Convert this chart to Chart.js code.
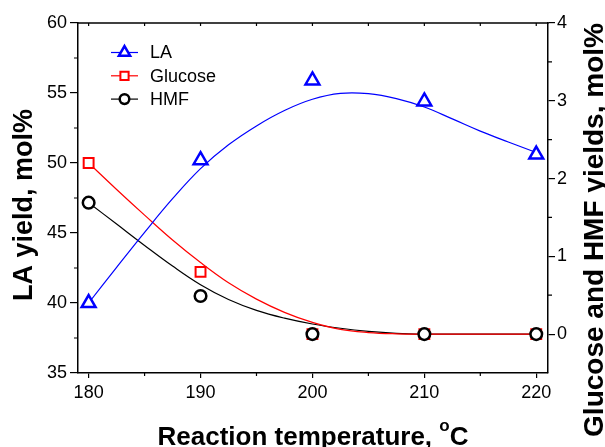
<!DOCTYPE html>
<html>
<head>
<meta charset="utf-8">
<script src="https://cdn.jsdelivr.net/npm/chart.js@4/dist/chart.umd.min.js"></script>
<style>
  html, body { margin: 0; padding: 0; background: #fff; }
  #wrap { width: 605px; height: 447px; }
</style>
</head>
<body>
<div id="wrap"><canvas id="myChart" width="605" height="447"></canvas></div>
<script>
/* measured yields */
const temps = [180, 190, 200, 210, 220];
const laYield = [40.0, 50.2, 55.9, 54.4, 50.6];
const glucoseYield = [2.2, 0.8, 0, 0, 0];
const hmfYield = [1.69, 0.49, 0, 0, 0];

/* fitted curves */
const fitTemps = [180, 182.5, 185, 187.5, 190, 192.5, 195, 197.5, 200, 202.5, 205, 207.5, 210, 212.5, 215, 217.5, 220];
const laFit = [40.0, 42.55, 45.05, 47.45, 49.6, 51.3, 52.65, 53.75, 54.55, 54.97, 54.95, 54.6, 54.0, 53.15, 52.28, 51.5, 50.75];
const glucoseFit = [2.2, 1.86, 1.53, 1.21, 0.92, 0.66, 0.45, 0.28, 0.15, 0.06, 0.02, 0.004, 0, 0, 0, 0, 0];
const hmfFit = [1.69, 1.415, 1.14, 0.875, 0.635, 0.445, 0.305, 0.205, 0.13, 0.075, 0.035, 0.01, 0, 0, 0, 0, 0];

/* axis ticks */
const xTicks = [180, 190, 200, 210, 220];
const laTicks = [35, 40, 45, 50, 55, 60];
const sideTicks = [0, 1, 2, 3, 4];

const BLUE = '#0000ff';
const RED = '#ff0000';
const BLACK = '#000000';
const FONT = '"Liberation Sans", Arial, sans-serif';

Chart.defaults.font.family = FONT;
Chart.defaults.color = '#000';

function pts(xs, ys) {
    return xs.map((x, i) => ({x: x, y: ys[i]}));
}

const legendItems = [
    {text: 'LA', color: BLUE, pointStyle: 'triangle', radius: 6.5, borderWidth: 2.5},
    {text: 'Glucose', color: RED, pointStyle: 'rect', radius: 5.8, borderWidth: 2},
    {text: 'HMF', color: BLACK, pointStyle: 'circle', radius: 4.8, borderWidth: 2.5}
];

/* top frame, minor ticks, titles and legend */
const decorations = {
    id: 'decorations',
    afterDraw(chart) {
        const {ctx, chartArea: a, scales} = chart;
        const x = scales.x, y = scales.y, y2 = scales.y2;
        ctx.save();
        ctx.strokeStyle = '#000';
        ctx.lineWidth = 1.5;

        // top border
        ctx.beginPath();
        ctx.moveTo(a.left - 0.75, a.top);
        ctx.lineTo(a.right + 0.75, a.top);
        ctx.stroke();

        ctx.lineWidth = 1.2;
        ctx.beginPath();
        // ticks along the top, pointing in
        for (let v = 180; v <= 220; v += 5) {
            const px = x.getPixelForValue(v);
            ctx.moveTo(px, a.top);
            ctx.lineTo(px, a.top + 3);
        }
        // minor ticks bottom
        for (let v = 185; v < 220; v += 10) {
            const px = x.getPixelForValue(v);
            ctx.moveTo(px, a.bottom);
            ctx.lineTo(px, a.bottom + 3);
        }
        // minor ticks left
        for (let v = 37.5; v < 60; v += 5) {
            const py = y.getPixelForValue(v);
            ctx.moveTo(a.left, py);
            ctx.lineTo(a.left - 4, py);
        }
        // minor ticks right
        for (let v = 0.5; v < 4; v += 1) {
            const py = y2.getPixelForValue(v);
            ctx.moveTo(a.right, py);
            ctx.lineTo(a.right + 4, py);
        }
        ctx.stroke();

        // axis titles
        ctx.fillStyle = '#000';
        ctx.textAlign = 'center';
        ctx.textBaseline = 'alphabetic';

        ctx.save();
        ctx.translate(31.5, 205);
        ctx.rotate(-Math.PI / 2);
        ctx.font = 'bold 27px ' + FONT;
        ctx.fillText('LA yield, mol%', 0, 0);
        ctx.restore();

        ctx.save();
        ctx.translate(603, 230);
        ctx.rotate(-Math.PI / 2);
        ctx.font = 'bold 28px ' + FONT;
        ctx.fillText('Glucose and HMF yields, mol%', 0, 0);
        ctx.restore();

        // x title with superscript degree
        const mainTxt = 'Reaction temperature, ';
        ctx.font = 'bold 26px ' + FONT;
        const w1 = ctx.measureText(mainTxt).width;
        const wC = ctx.measureText('C').width;
        ctx.font = 'bold 17px ' + FONT;
        const wo = ctx.measureText('o').width;
        const total = w1 + wo + wC;
        let sx = (a.left + a.right) / 2 - total / 2;
        ctx.textAlign = 'left';
        ctx.font = 'bold 26px ' + FONT;
        ctx.fillText(mainTxt, sx, 445);
        ctx.font = 'bold 17px ' + FONT;
        ctx.fillText('o', sx + w1, 431);
        ctx.font = 'bold 26px ' + FONT;
        ctx.fillText('C', sx + w1 + wo, 445);

        // legend
        ctx.font = '18px ' + FONT;
        ctx.textBaseline = 'middle';
        legendItems.forEach((item, i) => {
            const ly = 52.5 + i * 23.3;
            ctx.strokeStyle = item.color;
            ctx.lineWidth = 1.2;
            ctx.beginPath();
            ctx.moveTo(111, ly);
            ctx.lineTo(138, ly);
            ctx.stroke();
            ctx.fillStyle = '#fff';
            ctx.lineWidth = item.borderWidth;
            Chart.helpers.drawPoint(ctx, {
                pointStyle: item.pointStyle,
                radius: item.radius,
                rotation: 0,
                borderWidth: item.borderWidth
            }, 124.5, ly);
            ctx.fillStyle = '#000';
            ctx.fillText(item.text, 150, ly + 1);
        });
        ctx.restore();
    }
};

function fixTicks(list) {
    return function(scale) {
        scale.ticks = list.map(v => ({value: v}));
    };
}

function fitLine(label, ys, color, axis) {
    return {
        type: 'line',
        label: label,
        data: pts(fitTemps, ys),
        yAxisID: axis,
        borderColor: color,
        borderWidth: 1.2,
        pointRadius: 0,
        pointHoverRadius: 0,
        tension: 0.4,
        fill: false
    };
}

const config = {
    data: {
        datasets: [
            {
                type: 'scatter',
                label: 'HMF',
                data: pts(temps, hmfYield),
                yAxisID: 'y2',
                pointStyle: 'circle',
                pointRadius: 5.8,
                pointBorderWidth: 2.5,
                borderColor: BLACK,
                backgroundColor: '#fff',
                pointHoverRadius: 5.8
            },
            {
                type: 'scatter',
                label: 'Glucose',
                data: pts(temps, glucoseYield),
                yAxisID: 'y2',
                pointStyle: 'rect',
                pointRadius: 7,
                pointBorderWidth: 2,
                borderColor: RED,
                backgroundColor: '#fff',
                pointHoverRadius: 7
            },
            {
                type: 'scatter',
                label: 'LA',
                data: pts(temps, laYield),
                yAxisID: 'y',
                pointStyle: 'triangle',
                pointRadius: 8,
                pointBorderWidth: 2.5,
                borderColor: BLUE,
                backgroundColor: '#fff',
                pointHoverRadius: 8
            },
            fitLine('LA fit', laFit, BLUE, 'y'),
            fitLine('Glucose fit', glucoseFit, RED, 'y2'),
            fitLine('HMF fit', hmfFit, BLACK, 'y2')
        ]
    },
    options: {
        responsive: false,
        animation: false,
        layout: {padding: {top: 23, left: 0, right: 0, bottom: 0}},
        plugins: {
            legend: {display: false},
            tooltip: {enabled: false}
        },
        scales: {
            x: {
                type: 'linear',
                position: 'bottom',
                min: 179.05,
                max: 221.05,
                afterBuildTicks: fixTicks(xTicks),
                afterFit: s => { s.height = 74; },
                border: {display: true, color: '#000', width: 1.5},
                grid: {drawOnChartArea: false, drawTicks: true, tickLength: 5, color: '#000', lineWidth: 1.2},
                ticks: {font: {size: 18}, padding: 4, maxRotation: 0, color: '#000'}
            },
            y: {
                type: 'linear',
                position: 'left',
                min: 35,
                max: 60,
                afterBuildTicks: fixTicks(laTicks),
                afterFit: s => { s.width = 78; },
                border: {display: true, color: '#000', width: 1.5},
                grid: {drawOnChartArea: false, drawTicks: true, tickLength: 8, color: '#000', lineWidth: 1.2},
                ticks: {font: {size: 18}, padding: 3, color: '#000'}
            },
            y2: {
                type: 'linear',
                position: 'right',
                min: -0.5,
                max: 4,
                afterBuildTicks: fixTicks(sideTicks),
                afterFit: s => { s.width = 57; },
                border: {display: true, color: '#000', width: 1.5},
                grid: {drawOnChartArea: false, drawTicks: true, tickLength: 7, color: '#000', lineWidth: 1.2},
                ticks: {font: {size: 18}, padding: 2, color: '#000'}
            }
        }
    },
    plugins: [decorations]
};

const myChart = new Chart(document.getElementById('myChart').getContext('2d'), config);
</script>
</body>
</html>
